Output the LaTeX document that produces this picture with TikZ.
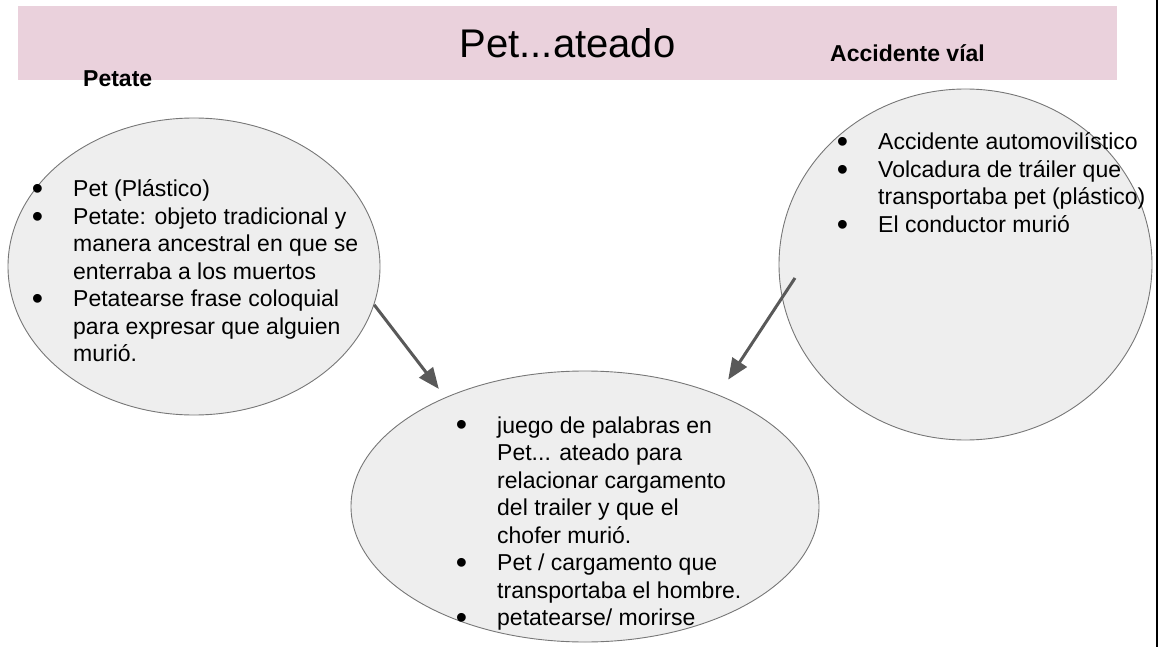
\documentclass[tikz,border=0pt]{standalone}
\usepackage{fontspec}
\setmainfont{Liberation Sans}
\usetikzlibrary{shapes,arrows.meta,positioning}
\definecolor{cbanner}{HTML}{EAD1DC}
\definecolor{cbubble}{HTML}{EEEEEE}
\definecolor{crim}{HTML}{777777}
\definecolor{carrow}{HTML}{595959}
\newcommand{\itm}{\llap{\raisebox{-2.6pt}{\scalebox{1.4}{\textbullet}}\hspace{30pt}}}

\begin{document}
\begin{tikzpicture}[x=1pt,y=-1pt,
    bubble/.style={ellipse,draw=crim,line width=0.9pt,fill=cbubble,inner sep=0pt},
    items/.style={anchor=base west,inner sep=0pt,font=\fontsize{23}{27.5}\selectfont},
    heading/.style={anchor=base west,inner sep=0pt,font=\fontsize{23}{27.5}\selectfont\bfseries},
    link/.style={-{Triangle[length=21pt,width=17pt]},line width=3pt,carrow}]
  \useasboundingbox (0,0) rectangle (1162,647);
  \node[fill=cbanner,minimum width=1099pt,minimum height=74pt,inner sep=0pt,
    font=\fontsize{40}{48}\selectfont] (title) at (567.5,43) {Pet...ateado};
  \node[heading] (petate) at (83,87) {Petate};
  \node[heading] (accid) at (830,62) {Accidente víal};

  \node[bubble,minimum width=372pt,minimum height=297pt] (lft) at (194,266.5) {};
  \node[bubble,minimum width=373pt,minimum height=351pt] (rgt) at (965.5,264.5) {};
  \node[bubble,minimum width=468pt,minimum height=271pt] (mid) at (585,506.5) {};

  \coordinate (rtail) at (795,278);
  \path (lft.-12.4) edge[link,shorten >=10.6pt] (mid.142.6);
  \path (rtail) edge[link,shorten >=18pt] (mid.40.2);

  \node[items] (ltext) at (73,197) {\begin{tabular}[t]{@{}l@{}}
    \itm Pet (Plástico)\\
    \itm Petate: objeto tradicional y\\
    manera ancestral en que se\\
    enterraba a los muertos\\
    \itm Petatearse frase coloquial\\
    para expresar que alguien\\
    murió.
  \end{tabular}};
  \node[items] (rtext) at (878,150) {\begin{tabular}[t]{@{}l@{}}
    \itm Accidente automovilístico\\
    \itm Volcadura de tráiler que\\
    transportaba pet (plástico)\\
    \itm El conductor murió
  \end{tabular}};
  \node[items] (mtext) at (497,433) {\begin{tabular}[t]{@{}l@{}}
    \itm juego de palabras en\\
    Pet... ateado para\\
    relacionar cargamento\\
    del trailer y que el\\
    chofer murió.\\
    \itm Pet / cargamento que\\
    transportaba el hombre.\\
    \itm petatearse/ morirse
  \end{tabular}};

  \draw[line width=1.5pt] (1157,0) -- (1157,647);
\end{tikzpicture}
\end{document}
